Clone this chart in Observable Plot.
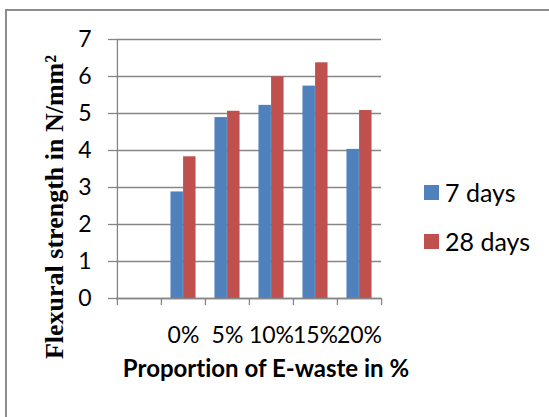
<!DOCTYPE html>
<html>
<head>
<meta charset="utf-8">
<script src="https://cdn.jsdelivr.net/npm/d3@7"></script>
<script src="https://cdn.jsdelivr.net/npm/@observablehq/plot@0.6"></script>
<style>
  html, body { margin: 0; padding: 0; background: #fff; }
  #wrap { position: relative; width: 549px; height: 417px; overflow: hidden; background: #fff; }
  #border { position: absolute; left: 5px; top: 9px; width: 700px; height: 600px;
            border-top: 2px solid #8c8c8c; border-left: 2px solid #8c8c8c; pointer-events: none; }
  #legend { position: absolute; left: 424px; top: 0; font-family: Lato, sans-serif; font-size: 25px; color: #000; }
  .item { position: absolute; left: 0; display: flex; align-items: center; white-space: nowrap; height: 30px; }
  .sw { width: 15px; height: 15px; margin-right: 6px; flex: none; }
  svg text { font-variant-ligatures: none; }
</style>
</head>
<body>
<div id="wrap">
  <div id="chart"></div>
  <div id="legend"></div>
  <div id="border"></div>
</div>
<script>
// ---- data ----
const categories = ["", "0%", "5%", "10%", "15%", "20%"];
const series = ["7 days", "28 days"];
const days7 = [null, 2.88, 4.89, 5.22, 5.74, 4.03];
const days28 = [null, 3.83, 5.06, 5.99, 6.37, 5.08];
const yTicks = [0, 1, 2, 3, 4, 5, 6, 7];
const colors = ["#4F81BD", "#C0504D"];
const yTitle = "Flexural strength in N/mm²";
const xTitle = "Proportion of E-waste in %";

// ---- layout ----
const W = 549, H = 417;
const mL = 116, mR = 168, mT = 39, mB = 119;
const bw = (W - mL - mR) / categories.length;   // category band width
const w = bw / 3.5;                              // bar width (gap width 150%)
const grey = "#868686";

const rows7 = categories.map((c, i) => ({cat: c, value: days7[i]})).filter(d => d.value != null);
const rows28 = categories.map((c, i) => ({cat: c, value: days28[i]})).filter(d => d.value != null);

const chart = Plot.plot({
  width: W, height: H,
  marginLeft: mL, marginRight: mR, marginTop: mT, marginBottom: mB,
  style: {fontFamily: "Lato, sans-serif", fontSize: "23px", color: "#000", background: "none", overflow: "visible"},
  x: {type: "band", domain: categories, padding: 0},
  y: {domain: [0, 7]},
  marks: [
    Plot.gridY({ticks: yTicks, stroke: grey, strokeOpacity: 1, strokeWidth: 1.3}),
    Plot.gridX({ticks: [categories[0]], dx: -bw / 2, stroke: grey, strokeOpacity: 1, strokeWidth: 1.3}),
    Plot.barY(rows7, {x: "cat", y: "value", fill: colors[0], insetLeft: 0.75 * w, insetRight: 1.75 * w}),
    Plot.barY(rows28, {x: "cat", y: "value", fill: colors[1], insetLeft: 1.75 * w, insetRight: 0.75 * w}),
    Plot.ruleY([0], {stroke: grey, strokeWidth: 1.3}),
    Plot.axisY({ticks: yTicks, tickFormat: d => String(d), tickSize: 8, tickPadding: 17, stroke: grey, strokeWidth: 1.3, fill: "#000", fontSize: 23, label: null}),
    Plot.axisX({ticks: categories, tickSize: 7, tickFormat: () => "", dx: -bw / 2, stroke: grey, strokeWidth: 1.3, label: null}),
    Plot.axisX({ticks: [categories[categories.length - 1]], tickSize: 7, tickFormat: () => "", dx: bw / 2, stroke: grey, strokeWidth: 1.3, label: null}),
    Plot.axisX({tickSize: 0, tickPadding: 28, fill: "#000", fontSize: 23, label: null}),
    Plot.text([xTitle], {text: d => d, frameAnchor: "bottom", textAnchor: "middle", dx: 17, dy: 78, fontWeight: "bold", fontSize: 24, fill: "#000"}),
    Plot.text([yTitle], {text: d => d, frameAnchor: "left", textAnchor: "middle", rotate: -90, dx: -62, dy: 38,
      fontFamily: "Liberation Serif", fontWeight: "bold", fontSize: 26, fill: "#000"})
  ]
});
document.getElementById("chart").appendChild(chart);

// ---- legend ----
const legendTops = [177, 226];
const legend = document.getElementById("legend");
series.forEach((s, i) => {
  const item = document.createElement("div");
  item.className = "item";
  item.style.top = legendTops[i] + "px";
  const sw = document.createElement("span");
  sw.className = "sw";
  sw.style.background = colors[i];
  item.appendChild(sw);
  item.appendChild(document.createTextNode(s));
  legend.appendChild(item);
});
</script>
</body>
</html>
